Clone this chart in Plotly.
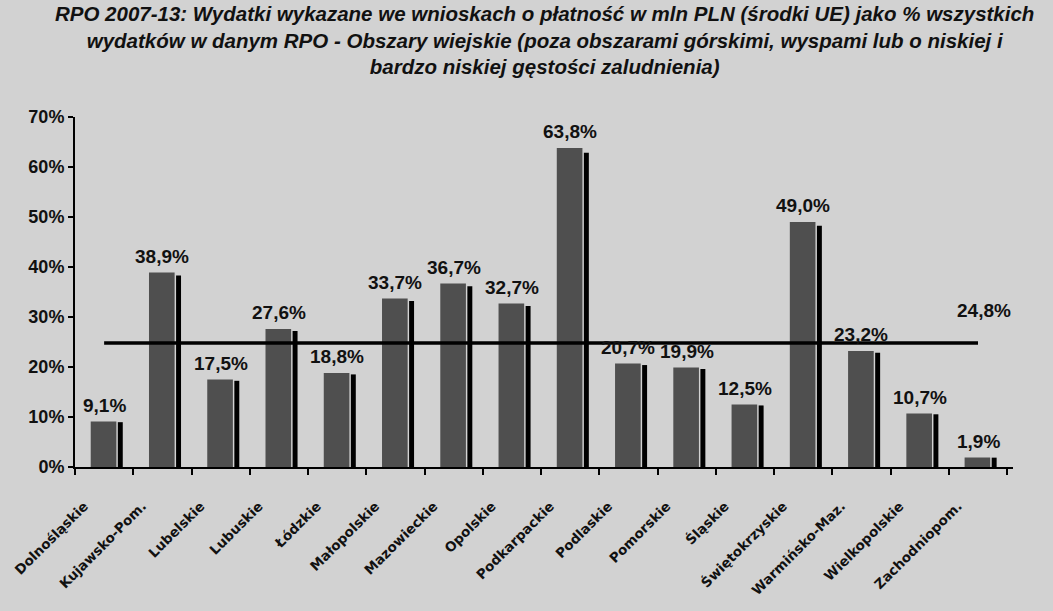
import plotly.graph_objects as go

categories = ["Dolnośląskie", "Kujawsko-Pom.", "Lubelskie", "Lubuskie", "Łódzkie",
              "Małopolskie", "Mazowieckie", "Opolskie", "Podkarpackie", "Podlaskie",
              "Pomorskie", "Śląskie", "Świętokrzyskie", "Warmińsko-Maz.", "Wielkopolskie",
              "Zachodniopom."]
values = [9.1, 38.9, 17.5, 27.6, 18.8, 33.7, 36.7, 32.7, 63.8, 20.7, 19.9, 12.5, 49.0, 23.2, 10.7, 1.9]
average = 24.8
y_ticks = [0, 10, 20, 30, 40, 50, 60, 70]
y_tick_labels = [f"{v}%" for v in y_ticks]
title_lines = [
    "RPO 2007-13: Wydatki wykazane we wnioskach o płatność w mln PLN (środki UE) jako % wszystkich",
    "wydatków w danym RPO - Obszary wiejskie (poza obszarami górskimi, wyspami lub o niskiej i",
    "bardzo niskiej gęstości zaludnienia)",
]

def fmt(v):
    return f"{v:.1f}".replace(".", ",") + "%"

BG = "#d2d2d2"
FONT = "Liberation Sans, Arial"
fig = go.Figure()
# front face of bars
fig.add_trace(go.Bar(x=categories, y=values, width=0.44, offset=-0.23,
                     marker=dict(color="#4f4f4f", line=dict(width=0)), hoverinfo="skip"))
# dark depth side
fig.add_trace(go.Bar(x=categories, y=[v * 0.985 for v in values], width=0.085, offset=0.235,
                     marker=dict(color="#000000", line=dict(width=0)), hoverinfo="skip"))
# average line
fig.add_trace(go.Scatter(x=categories, y=[average] * len(categories), mode="lines",
                         line=dict(color="#000000", width=3.5), hoverinfo="skip"))

for c, v in zip(categories, values):
    fig.add_annotation(x=c, y=v, text="<b>" + fmt(v) + "</b>", showarrow=False, yanchor="bottom",
                       yshift=4, font=dict(family=FONT, size=19, color="#111"))
fig.add_annotation(x=categories[-1], y=average, text="<b>" + fmt(average) + "</b>", showarrow=False,
                   yanchor="bottom", xshift=6, yshift=20,
                   font=dict(family=FONT, size=19, color="#111"))
# title
fig.add_annotation(xref="paper", yref="paper", x=0.5, y=(467 - 40) / 350, xanchor="center",
                   yanchor="middle", showarrow=False,
                   text="<b><i>" + "<br>".join(title_lines) + "</i></b>",
                   font=dict(family=FONT, size=20.5, color="#111"))

fig.update_layout(
    width=1053, height=611,
    paper_bgcolor=BG, plot_bgcolor=BG,
    barmode="overlay", showlegend=False,
    margin=dict(l=70, r=40, t=117, b=144),
    font=dict(family=FONT, color="#111"),
)
fig.update_yaxes(range=[0, 70], tickvals=y_ticks, ticktext=["<b>" + t + "</b>" for t in y_tick_labels],
                 showgrid=False, zeroline=False, showline=True, linecolor="#000", linewidth=2,
                 ticks="outside", ticklen=5, tickwidth=2, tickcolor="#000",
                 tickfont=dict(size=18, family=FONT))
fig.update_xaxes(type="category", tickangle=-45, showgrid=False, showline=True,
                 linecolor="#000", linewidth=2, ticks="outside", tickson="boundaries",
                 ticklen=6, tickwidth=1.5, tickcolor="#000",
                 ticklabelstandoff=24, ticklabelshift=-20,
                 tickvals=categories, ticktext=["<b>" + c + "</b>" for c in categories],
                 tickfont=dict(size=13.5, family="DejaVu Sans"))

fig.write_html("out.html", config={"displayModeBar": False},
               post_script="document.body.style.margin='0';document.body.style.background='%s';" % BG)
